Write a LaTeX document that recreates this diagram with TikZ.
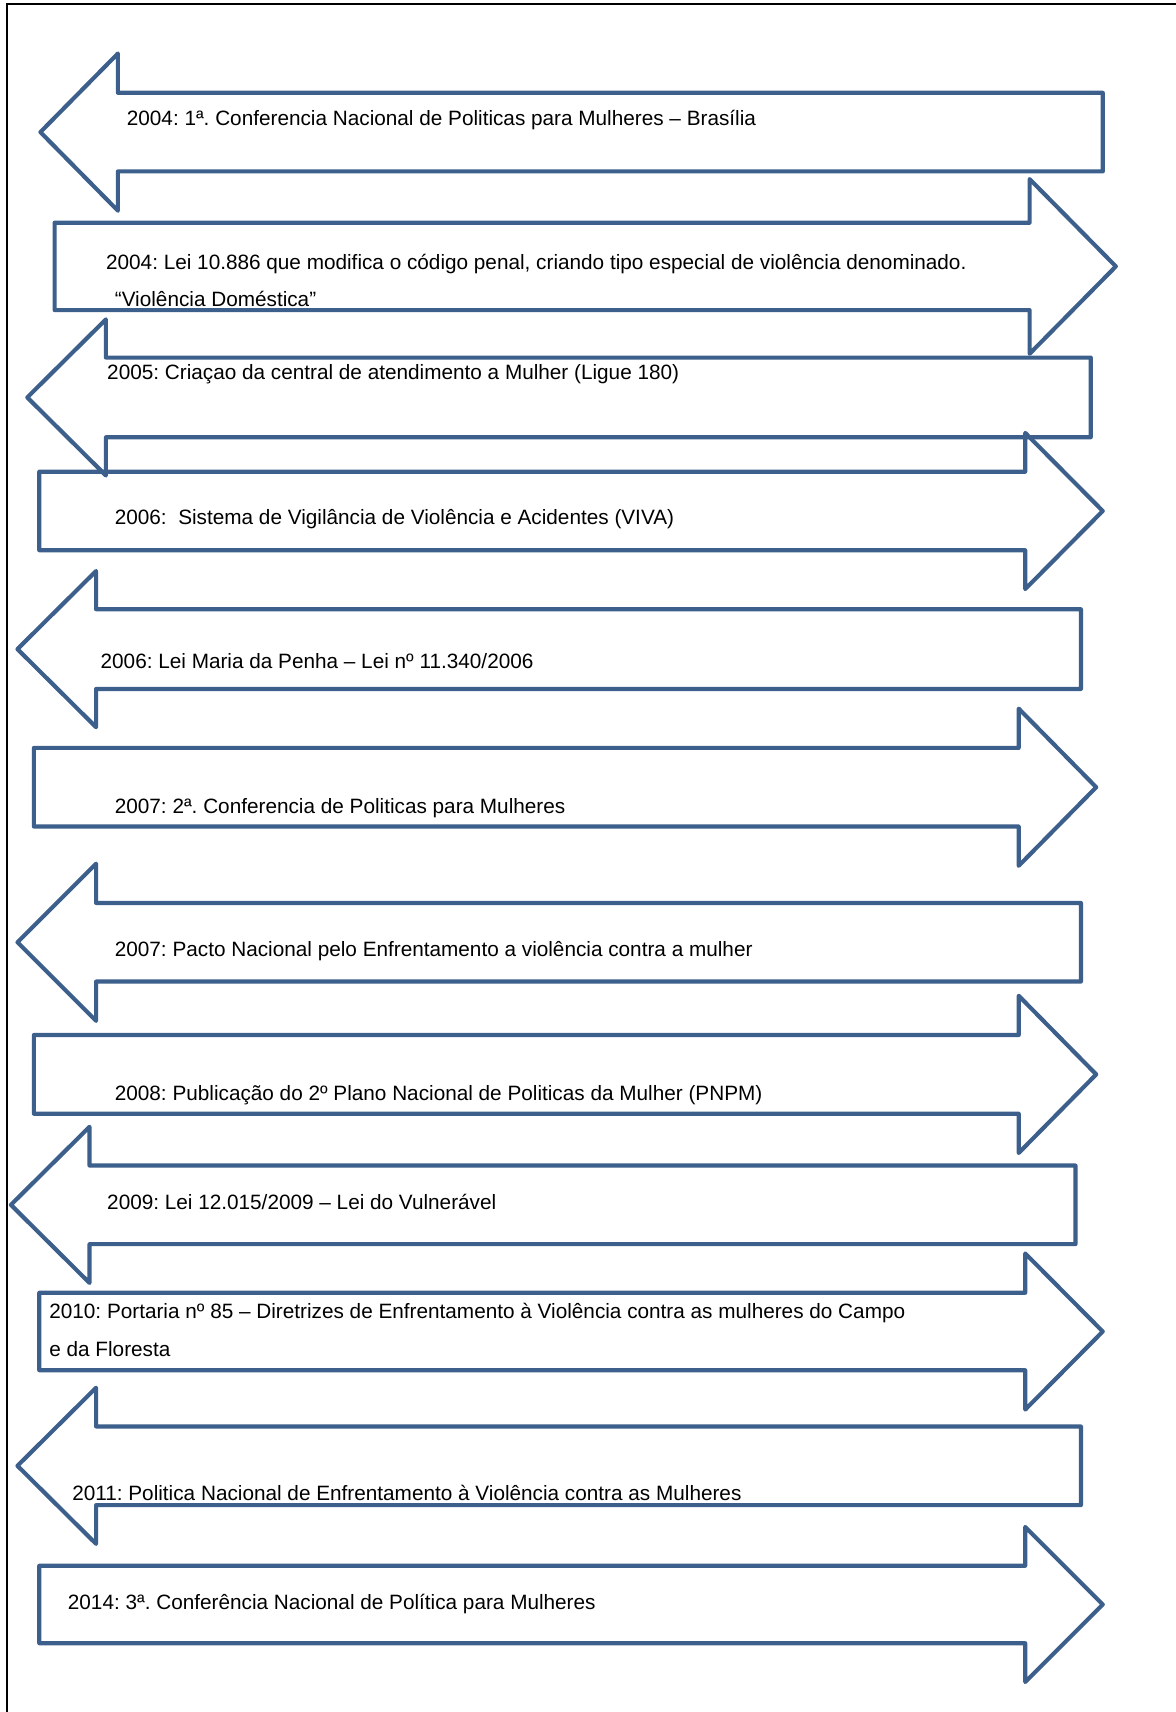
\documentclass[tikz,border=0pt]{standalone}
\usepackage{fontspec}
\setmainfont{Liberation Sans}
\frenchspacing
\definecolor{arrowblue}{HTML}{3C5F8C}
\tikzset{
  tlarrow/.style={draw=arrowblue,line width=3.8pt,line join=round},
  tltext/.style={anchor=base west,inner sep=0pt,font=\fontsize{19}{23}\selectfont},
  frame/.style={draw=black,line width=1.8pt}
}
% left-pointing arrow: tip x, centre y, neck x, head half, shaft half, right x
\newcommand{\tlL}[6]{%
  \draw[tlarrow] (#1,#2) -- (#3,#2-#4) -- (#3,#2-#5) -- (#6,#2-#5) -- (#6,#2+#5)
    -- (#3,#2+#5) -- (#3,#2+#4) -- cycle;}
% right-pointing arrow: left x, centre y, neck x, head half, shaft half, tip x
\newcommand{\tlR}[6]{%
  \draw[tlarrow] (#1,#2-#5) -- (#3,#2-#5) -- (#3,#2-#4) -- (#6,#2) -- (#3,#2+#4)
    -- (#3,#2+#5) -- (#1,#2+#5) -- cycle;}
\begin{document}
\begin{tikzpicture}[x=1pt,y=-1pt]
\useasboundingbox (0,0) rectangle (1077,1568);
\draw[frame] (6,1568) -- (6,4) -- (1077,4);
% arrows
\tlL{37}{121}{108}{72}{36}{1010}
\tlR{50}{244}{943}{80}{40}{1022}
\tlL{25}{364}{97}{71.5}{36.5}{999}
\tlR{36}{468}{939}{71.5}{36}{1010}
\tlL{16}{594.5}{88}{71.5}{36.5}{990}
\tlR{31}{721}{933}{72}{36}{1004}
\tlL{16}{863}{88}{72}{36}{990}
\tlR{31}{984}{933}{72}{36}{1004}
\tlL{10}{1103.5}{82}{71.5}{36}{985}
\tlR{36}{1219.5}{939}{71.5}{35.5}{1010}
\tlL{16}{1342.5}{88}{71.5}{36}{990}
\tlR{36}{1469.5}{939}{71}{35.5}{1010}
% texts
\node[tltext] (t1) at (116,115) {2004: 1ª. Conferencia Nacional de Politicas para Mulheres – Brasília};
\node[tltext] (t2a) at (97,247) {2004: Lei 10.886 que modifica o código penal, criando tipo especial de violência denominado.};
\node[tltext] (t2b) at (105,281) {“Violência Doméstica”};
\node[tltext] (t3) at (98,348) {2005: Criaçao da central de atendimento a Mulher (Ligue 180)};
\node[tltext] (t4) at (105,480) {2006:\ \ Sistema de Vigilância de Violência e Acidentes (VIVA)};
\node[tltext] (t5) at (92,612) {2006: Lei Maria da Penha – Lei nº 11.340/2006};
\node[tltext] (t6) at (105,745) {2007: 2ª. Conferencia de Politicas para Mulheres};
\node[tltext] (t7) at (105,876) {2007: Pacto Nacional pelo Enfrentamento a violência contra a mulher};
\node[tltext] (t8) at (105,1008) {2008: Publicação do 2º Plano Nacional de Politicas da Mulher (PNPM)};
\node[tltext] (t9) at (98,1108) {2009: Lei 12.015/2009 – Lei do Vulnerável};
\node[tltext] (t10a) at (45,1208) {2010: Portaria nº 85 – Diretrizes de Enfrentamento à Violência contra as mulheres do Campo};
\node[tltext] (t10b) at (45,1242) {e da Floresta};
\node[tltext] (t11) at (66,1374) {2011: Politica Nacional de Enfrentamento à Violência contra as Mulheres};
\node[tltext] (t12) at (62,1474) {2014: 3ª. Conferência Nacional de Política para Mulheres};
\end{tikzpicture}
\end{document}
